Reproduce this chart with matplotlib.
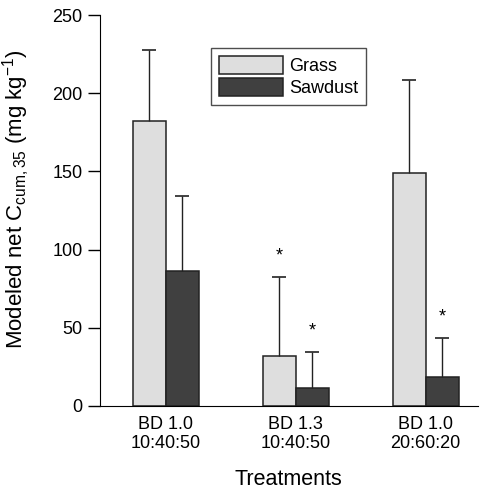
import numpy as np
import matplotlib
matplotlib.use("Agg")
import matplotlib.pyplot as plt

plt.rcParams['font.family'] = ['Liberation Sans', 'DejaVu Sans']
plt.rcParams['mathtext.fontset'] = 'custom'
plt.rcParams['mathtext.rm'] = 'Liberation Sans'
plt.rcParams['mathtext.it'] = 'Liberation Sans'

treatments = ['BD 1.0\n10:40:50', 'BD 1.3\n10:40:50', 'BD 1.0\n20:60:20']
grass = [182, 32, 149]
grass_err = [45.5, 50.5, 59.5]
sawdust = [86, 11.5, 18.5]
sawdust_err = [48, 23, 25]
grass_sig = [False, True, False]
sawdust_sig = [False, True, True]

fig = plt.figure(figsize=(4.84, 4.92), dpi=100)
ax = fig.add_axes([0.2066, 0.1748, 0.78, 0.7947])

x = np.arange(len(treatments))
w = 0.254
ekw = dict(capsize=5, capthick=1.2, elinewidth=1.0, ecolor='#222222')
b1 = ax.bar(x - w / 2, grass, w, color='#dedede', edgecolor='#222222', linewidth=1.1,
            yerr=[np.zeros(3), grass_err], error_kw=ekw, label='Grass')
b2 = ax.bar(x + w / 2, sawdust, w, color='#404040', edgecolor='#222222', linewidth=1.1,
            yerr=[np.zeros(3), sawdust_err], error_kw=ekw, label='Sawdust')

# only upper caps
for b in (b1, b2):
    caps = b.errorbar.lines[1]
    caps[0].set_visible(False)

for i in range(3):
    if grass_sig[i]:
        ax.text(x[i] - w / 2, grass[i] + grass_err[i] + 8, '*', ha='center', va='bottom', fontsize=13)
    if sawdust_sig[i]:
        ax.text(x[i] + w / 2, sawdust[i] + sawdust_err[i] + 8, '*', ha='center', va='bottom', fontsize=13)

ax.set_xlim(-0.508, 2.4)
ax.set_ylim(0, 250)
ax.set_yticks([0, 50, 100, 150, 200, 250])
ax.set_xticks(x)
ax.set_xticklabels(treatments, fontsize=13)
ax.tick_params(axis='x', length=0, pad=7)
ax.tick_params(axis='y', direction='out', length=9, labelsize=13, width=1.0)
ax.spines['top'].set_visible(False)
ax.spines['right'].set_visible(False)
ax.set_ylabel('Modeled net C$_{\\mathrm{cum,35}}$ (mg kg$^{\\mathrm{-1}}$)', fontsize=16, labelpad=4)
ax.yaxis.set_label_coords(-0.18, 0.53)
ax.set_xlabel('Treatments', fontsize=15.5, labelpad=12)

leg = ax.legend(loc='upper left', bbox_to_anchor=(0.295, 0.915), fontsize=13, frameon=True,
                fancybox=False, edgecolor='#222222', handlelength=3.5, handleheight=1.15,
                handletextpad=0.35, borderpad=0.45, labelspacing=0.15, borderaxespad=0)
leg.get_frame().set_linewidth(1.0)

fig.savefig('out.png', dpi=100)
